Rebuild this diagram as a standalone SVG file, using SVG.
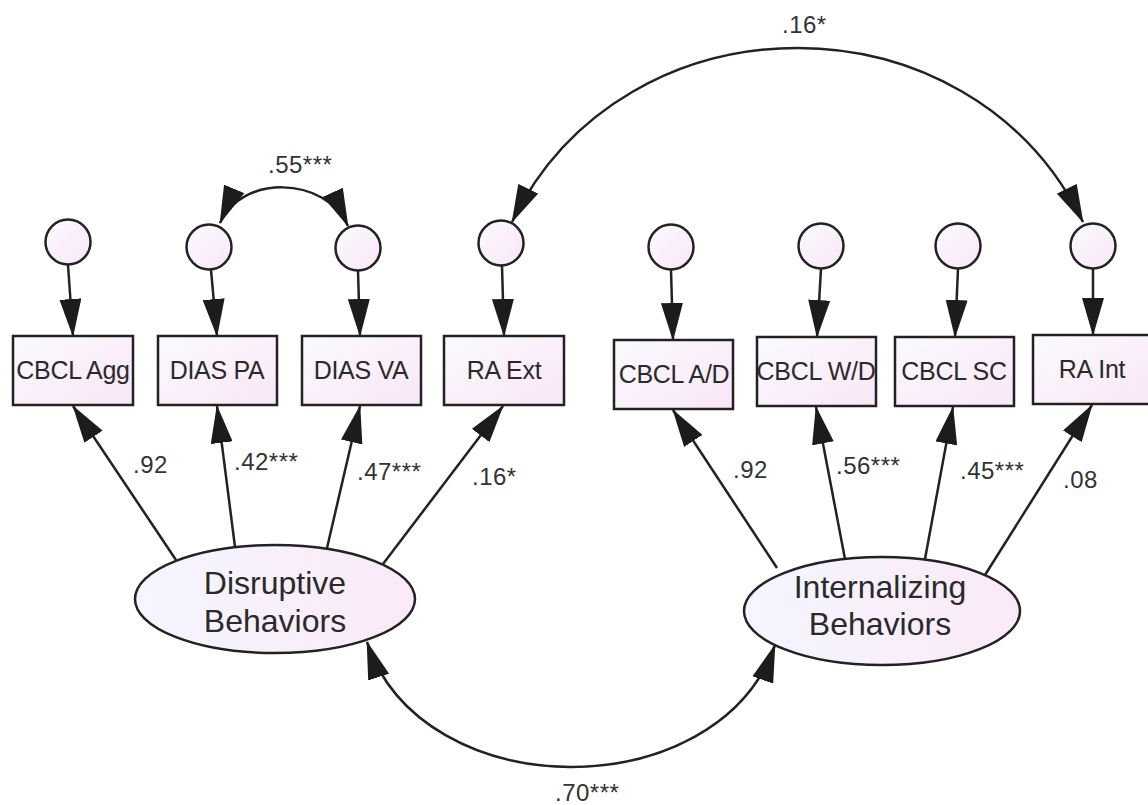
<svg xmlns="http://www.w3.org/2000/svg" width="1148" height="805" viewBox="0 0 1148 805">
<defs>
<linearGradient id="fillg" x1="0" y1="0" x2="1" y2="1">
<stop offset="0" stop-color="#fbfaff"/>
<stop offset="1" stop-color="#f9e6f6"/>
</linearGradient>
<linearGradient id="ellg" x1="0" y1="0" x2="1" y2="0">
<stop offset="0" stop-color="#f4f6ff"/>
<stop offset="1" stop-color="#fbe9f7"/>
</linearGradient>
<marker id="ah" viewBox="0 0 38 22" refX="37" refY="11" markerWidth="38" markerHeight="22" markerUnits="userSpaceOnUse" orient="auto-start-reverse">
<path d="M0,0 L38,11 L0,22 Z" fill="#1c1c1c"/>
</marker>
<style>
.box{fill:url(#fillg);stroke:#222;stroke-width:2.5}
.err{fill:url(#fillg);stroke:#222;stroke-width:2.5}
.lat{fill:url(#ellg);stroke:#222;stroke-width:2.5}
.bt{font-family:"Liberation Sans",Arial,sans-serif;font-size:25px;fill:#2a2a2a;text-anchor:middle;letter-spacing:-0.3px}
.lt{font-family:"Liberation Sans",Arial,sans-serif;font-size:32px;fill:#2a2a2a;text-anchor:middle}
.nl{font-family:"Liberation Sans",Arial,sans-serif;font-size:24px;fill:#333;letter-spacing:0.5px}
.c{fill:none;stroke:#222;stroke-width:2.5}
.a{fill:none;stroke:#222;stroke-width:2.5;marker-end:url(#ah)}
.d{fill:none;stroke:#222;stroke-width:2.5;marker-start:url(#ah);marker-end:url(#ah)}
</style>
</defs>
<rect width="1148" height="805" fill="#ffffff"/>

<g id="connectors">
<line class="a" x1="68" y1="265" x2="73" y2="336"/>
<line class="a" x1="211" y1="270" x2="217" y2="336"/>
<line class="a" x1="358" y1="271" x2="360" y2="336"/>
<line class="a" x1="502" y1="266" x2="504" y2="336"/>
<line class="a" x1="671" y1="270" x2="673" y2="340"/>
<line class="a" x1="821" y1="269" x2="817" y2="337"/>
<line class="a" x1="958" y1="269" x2="955" y2="337"/>
<line class="a" x1="1093" y1="269" x2="1093" y2="335"/>
<line class="a" x1="176" y1="560" x2="73" y2="406"/>
<line class="a" x1="235" y1="547" x2="217" y2="406"/>
<line class="a" x1="327" y1="548" x2="360" y2="406"/>
<line class="a" x1="383" y1="564" x2="503" y2="406"/>
<line class="a" x1="777" y1="568" x2="673" y2="410"/>
<line class="a" x1="845" y1="559" x2="816" y2="407"/>
<line class="a" x1="925" y1="559" x2="953" y2="407"/>
<line class="a" x1="985" y1="575" x2="1092" y2="405"/>
<path class="d" d="M220,223 C240,175 325,175 348,226"/>
<path class="d" d="M512,222 C625,-10 970,-10 1083,222"/>
<path class="d" d="M367,642 C422,808 718,808 775,645"/>
<text class="nl" x="133" y="473">.92</text>
<text class="nl" x="234" y="470">.42***</text>
<text class="nl" x="357" y="480">.47***</text>
<text class="nl" x="472" y="485">.16*</text>
<text class="nl" x="733" y="478">.92</text>
<text class="nl" x="836" y="474">.56***</text>
<text class="nl" x="960" y="479">.45***</text>
<text class="nl" x="1063" y="488">.08</text>
<text class="nl" x="268" y="173">.55***</text>
<text class="nl" x="782" y="33">.16*</text>
<text class="nl" x="555" y="801">.70***</text>
</g>

<g id="e1"><circle class="err" cx="68" cy="242" r="22.5"/></g>
<g id="e2"><circle class="err" cx="209" cy="247" r="22.5"/></g>
<g id="e3"><circle class="err" cx="358" cy="248" r="22.5"/></g>
<g id="e4"><circle class="err" cx="501" cy="243" r="22.5"/></g>
<g id="e5"><circle class="err" cx="671" cy="247" r="22.5"/></g>
<g id="e6"><circle class="err" cx="821" cy="246" r="22.5"/></g>
<g id="e7"><circle class="err" cx="958" cy="246" r="22.5"/></g>
<g id="e8"><circle class="err" cx="1093" cy="246" r="22.5"/></g>

<g id="cbcl_agg"><rect class="box" x="13" y="336" width="120" height="69"/><text class="bt" x="73" y="379">CBCL Agg</text></g>
<g id="dias_pa"><rect class="box" x="158" y="336" width="119" height="69"/><text class="bt" x="217" y="379">DIAS PA</text></g>
<g id="dias_va"><rect class="box" x="302" y="336" width="119" height="69"/><text class="bt" x="361" y="379">DIAS VA</text></g>
<g id="ra_ext"><rect class="box" x="444" y="336" width="120" height="69"/><text class="bt" x="504" y="379">RA Ext</text></g>
<g id="cbcl_ad"><rect class="box" x="614" y="340" width="119" height="69"/><text class="bt" x="674" y="383">CBCL A/D</text></g>
<g id="cbcl_wd"><rect class="box" x="757" y="337" width="119" height="69"/><text class="bt" x="816" y="380">CBCL W/D</text></g>
<g id="cbcl_sc"><rect class="box" x="895" y="337" width="119" height="69"/><text class="bt" x="954" y="380">CBCL SC</text></g>
<g id="ra_int"><rect class="box" x="1033" y="335" width="120" height="69"/><text class="bt" x="1092" y="378">RA Int</text></g>

<g id="disruptive"><ellipse class="lat" cx="275" cy="599" rx="140" ry="54"/><text class="lt" x="275" y="594">Disruptive</text><text class="lt" x="275" y="632">Behaviors</text></g>
<g id="internalizing"><ellipse class="lat" cx="882" cy="611" rx="138" ry="54"/><text class="lt" x="880" y="598">Internalizing</text><text class="lt" x="880" y="635">Behaviors</text></g>
</svg>
